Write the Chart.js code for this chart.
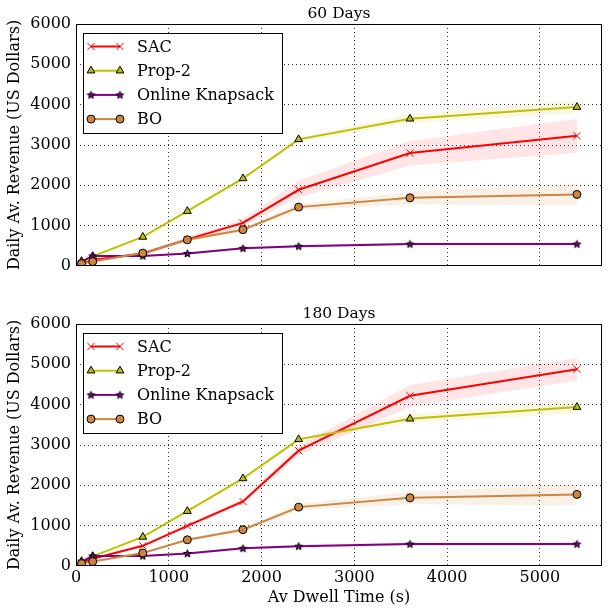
<!DOCTYPE html>
<html>
<head>
<meta charset="utf-8">
<script src="https://cdn.jsdelivr.net/npm/chart.js@4.4.0/dist/chart.umd.min.js"></script>
<style>
  html, body { margin: 0; padding: 0; background: #fff; }
  canvas { display: block; }
</style>
</head>
<body>
<canvas id="chart-60" width="608" height="300"></canvas>
<canvas id="chart-180" width="608" height="310"></canvas>
<script>
// dwell times (s) on the x axis
const dwellTimes = [60, 180, 720, 1200, 1800, 2400, 3600, 5400];
const xTickValues = [0, 1000, 2000, 3000, 4000, 5000];
const yTickValues = [0, 1000, 2000, 3000, 4000, 5000, 6000];

// 60 days
const sac60   = [60, 150, 310, 660, 1070, 1890, 2800, 3230];
const sac60Lo = [40, 120, 280, 610, 980, 1700, 2490, 2810];
const sac60Hi = [80, 180, 340, 710, 1160, 2120, 3100, 3650];

// 180 days
const sac180   = [80, 180, 500, 995, 1600, 2860, 4220, 4880];
const sac180Lo = [60, 160, 470, 950, 1530, 2740, 3950, 4600];
const sac180Hi = [100, 200, 530, 1040, 1670, 2980, 4490, 5160];

// same in both panels
const prop2   = [120, 240, 720, 1360, 2170, 3140, 3650, 3940];
const prop2Lo = [110, 225, 700, 1330, 2130, 3080, 3550, 3780];
const prop2Hi = [130, 255, 740, 1390, 2210, 3200, 3760, 4110];

const knapsack   = [100, 250, 250, 310, 440, 490, 545, 545];
const knapsackLo = [85, 230, 230, 285, 410, 455, 510, 510];
const knapsackHi = [115, 270, 270, 335, 470, 525, 580, 580];

const bo   = [60, 110, 320, 650, 900, 1460, 1690, 1775];
const boLo = [45, 90, 290, 610, 850, 1380, 1530, 1500];
const boHi = [75, 130, 350, 690, 950, 1540, 1840, 2030];

Chart.defaults.font.family = '"DejaVu Serif", serif';
Chart.defaults.font.size = 16;
Chart.defaults.color = '#000';

// matplotlib-like filled star marker
function makeStar() {
  const c = document.createElement('canvas');
  c.width = 11; c.height = 11;
  const g = c.getContext('2d');
  g.beginPath();
  for (let i = 0; i < 10; i++) {
    const r = i % 2 ? 1.7 : 4;
    const a = -Math.PI / 2 + i * Math.PI / 5;
    const px = 5.5 + r * Math.cos(a), py = 5.8 + r * Math.sin(a);
    i ? g.lineTo(px, py) : g.moveTo(px, py);
  }
  g.closePath();
  g.fillStyle = '#800080';
  g.fill();
  g.lineWidth = 1;
  g.strokeStyle = '#000';
  g.stroke();
  return c;
}
const starImg = makeStar();

const styles = {
  sac:      { label: 'SAC',             color: '#ff0000', band: 'rgba(255,0,0,0.1)',    marker: 'crossRot', radius: 5,   face: '#ff0000', edge: '#ff0000', order: 4 },
  prop2:    { label: 'Prop-2',          color: '#bfbf00', band: 'rgba(191,191,0,0.1)',  marker: 'triangle', radius: 4.5, face: '#bfbf00', edge: '#000',    order: 3 },
  knapsack: { label: 'Online Knapsack', color: '#800080', band: 'rgba(128,0,128,0.1)',  marker: starImg,    radius: 4,   face: '#800080', edge: '#000',    order: 2 },
  bo:       { label: 'BO',              color: '#cd853f', band: 'rgba(205,133,63,0.12)', marker: 'circle',  radius: 4,   face: '#cd853f', edge: '#000',    order: 1 },
};

const pts = vals => dwellTimes.map((x, i) => ({ x, y: vals[i] }));

function buildDatasets(series) {
  const out = [];
  series.forEach(s => {
    const st = styles[s.key];
    const loIdx = out.length;
    out.push({ data: pts(s.lo), borderWidth: 0, pointRadius: 0, fill: false, order: 10 });
    out.push({ data: pts(s.hi), borderWidth: 0, pointRadius: 0, fill: loIdx,
               backgroundColor: st.band, order: 10 });
  });
  series.forEach(s => {
    const st = styles[s.key];
    out.push({
      label: st.label, data: pts(s.vals), borderColor: st.color, borderWidth: 2,
      tension: 0, fill: false, order: st.order,
      pointStyle: st.marker, pointRadius: st.radius, pointBackgroundColor: st.face,
      pointBorderColor: st.edge, pointBorderWidth: 1
    });
  });
  return out;
}

const framePlugin = {
  id: 'frame',
  afterDraw(chart) {
    const { ctx, chartArea: a } = chart;
    ctx.save();
    ctx.strokeStyle = '#000';
    ctx.lineWidth = 1;
    ctx.strokeRect(a.left + 0.5, a.top + 0.5, a.right - a.left - 1, a.bottom - a.top - 1);

    // legend box
    const x0 = a.left + 7, y0 = a.top + 9, w = 200, h = 101;
    ctx.fillStyle = '#fff';
    ctx.fillRect(x0, y0, w, h);
    ctx.strokeRect(x0 + 0.5, y0 + 0.5, w - 1, h - 1);
    ctx.font = '16px "DejaVu Serif", serif';
    ctx.textBaseline = 'middle';
    ['sac', 'prop2', 'knapsack', 'bo'].forEach((k, i) => {
      const st = styles[k];
      const cy = y0 + 13.5 + i * 24.2;
      ctx.strokeStyle = st.color;
      ctx.lineWidth = 2;
      ctx.beginPath();
      ctx.moveTo(x0 + 8, cy);
      ctx.lineTo(x0 + 37, cy);
      ctx.stroke();
      ctx.fillStyle = st.face;
      ctx.strokeStyle = st.edge;
      ctx.lineWidth = 1;
      [x0 + 8, x0 + 37].forEach(px =>
        Chart.helpers.drawPoint(ctx, { pointStyle: st.marker, radius: st.radius, borderWidth: 1 }, px, cy));
      ctx.fillStyle = '#000';
      ctx.fillText(st.label, x0 + 54, cy + 1);
    });
    ctx.restore();
  }
};

const plain = v => String(v);

function makeChart(id, title, series, showX) {
  const ctx = document.getElementById(id).getContext('2d');
  return new Chart(ctx, {
    type: 'line',
    data: { datasets: buildDatasets(series) },
    plugins: [framePlugin],
    options: {
      responsive: false,
      animation: false,
      layout: { padding: { left: 0, right: 1, top: 0, bottom: 0 } },
      plugins: {
        legend: { display: false },
        tooltip: { enabled: false },
        title: {
          display: true, text: title, fullSize: false,
          font: { size: 15.5, weight: 'normal' }, padding: { top: 5, bottom: 0.4 }
        }
      },
      scales: {
        x: {
          type: 'linear', min: 0, max: 5670,
          afterBuildTicks: s => { s.ticks = xTickValues.map(v => ({ value: v })); },
          afterFit: s => { s.height = showX ? 44 : 34; },
          grid: { color: c => (c.tick && c.tick.value === 0) ? 'rgba(0,0,0,0)' : '#333', lineWidth: 1, drawTicks: false },
          border: { display: false, dash: [1, 3] },
          ticks: { display: showX, padding: 2, maxRotation: 0, includeBounds: false, callback: plain },
          title: { display: showX, text: 'Av Dwell Time (s)', padding: { top: 0, bottom: 2.4 } }
        },
        y: {
          min: 0, max: 6000,
          afterBuildTicks: s => { s.ticks = yTickValues.map(v => ({ value: v })); },
          afterFit: s => { s.width = 76; },
          grid: { color: c => (c.tick && (c.tick.value === 0 || c.tick.value === 6000)) ? 'rgba(0,0,0,0)' : '#333', lineWidth: 1, drawTicks: false },
          border: { display: false, dash: [1, 3] },
          ticks: { padding: 5, callback: plain },
          title: { display: true, text: 'Daily Av. Revenue (US Dollars)', padding: { top: 5.4, bottom: 0 } }
        }
      }
    }
  });
}

makeChart('chart-60', '60 Days', [
  { key: 'sac', vals: sac60, lo: sac60Lo, hi: sac60Hi },
  { key: 'prop2', vals: prop2, lo: prop2Lo, hi: prop2Hi },
  { key: 'knapsack', vals: knapsack, lo: knapsackLo, hi: knapsackHi },
  { key: 'bo', vals: bo, lo: boLo, hi: boHi },
], false);

makeChart('chart-180', '180 Days', [
  { key: 'sac', vals: sac180, lo: sac180Lo, hi: sac180Hi },
  { key: 'prop2', vals: prop2, lo: prop2Lo, hi: prop2Hi },
  { key: 'knapsack', vals: knapsack, lo: knapsackLo, hi: knapsackHi },
  { key: 'bo', vals: bo, lo: boLo, hi: boHi },
], true);
</script>
</body>
</html>
